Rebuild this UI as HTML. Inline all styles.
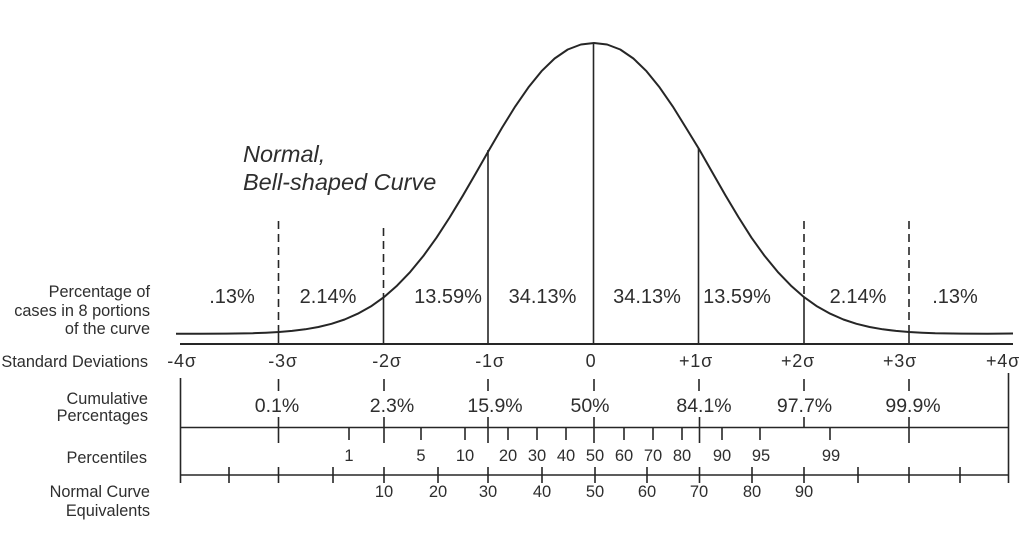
<!DOCTYPE html>
<html><head><meta charset="utf-8"><style>
html,body{margin:0;padding:0;background:#fff;}
svg{display:block;}
text{font-family:"Liberation Sans",Arial,sans-serif;fill:#2e2e2e;}
</style></head><body>
<svg width="1024" height="538" viewBox="0 0 1024 538" xmlns="http://www.w3.org/2000/svg">
<rect width="1024" height="538" fill="#fff"/>
<g stroke="#262626" fill="none" stroke-linejoin="round" stroke-linecap="butt">
<!-- curve -->
<polyline stroke-width="2" points="176,333.8 200.25,333.8 226.5,333.6 252.75,333.2 265.9,332.7 279,332 292.1,330.9 305.25,329.3 318.4,327 331.5,323.8 344.6,319.5 357.75,313.7 370.9,306.4 384,297.1 397.1,285.6 410.25,271.9 423.4,255.9 436.5,237.7 449.6,217.5 462.75,195.8 475.9,173.1 489,150.1 502.1,127.6 515.25,106.4 528.4,87.4 541.5,71.2 554.6,58.5 567.75,49.5 580.9,44.5 594,43 607.1,44.5 620.25,49.5 633.4,58.5 646.5,71.2 659.6,87.4 672.75,106.4 685.9,127.6 699,149 712.1,172 725.25,195 738.4,217 751.5,237.7 764.6,255.9 777.75,271.9 790.9,285.6 804,297.1 817.1,306.4 830.25,313.7 843.4,319.5 856.5,323.8 869.6,327 882.75,329.3 895.9,330.9 909,332 922.1,332.7 935.25,333.2 961.5,333.6 987.75,333.7 1013,333.5"/>
<!-- baseline -->
<line x1="180" y1="344" x2="1013" y2="344" stroke-width="2"/>
<!-- solid verticals -->
<g stroke-width="1.6">
<line x1="593.5" y1="43" x2="593.5" y2="344"/>
<line x1="488" y1="150" x2="488" y2="344"/>
<line x1="698.5" y1="148" x2="698.5" y2="344"/>
<line x1="383.5" y1="297" x2="383.5" y2="344"/>
<line x1="804" y1="297" x2="804" y2="344"/>
<line x1="278.5" y1="332" x2="278.5" y2="344"/>
<line x1="909" y1="332" x2="909" y2="344"/>
</g>
<!-- dashed verticals -->
<g stroke-width="1.6" stroke-dasharray="8 5">
<line x1="278.5" y1="221" x2="278.5" y2="332"/>
<line x1="383.5" y1="228" x2="383.5" y2="297"/>
<line x1="804" y1="221" x2="804" y2="297"/>
<line x1="909" y1="221" x2="909" y2="332"/>
</g>
<!-- cumulative section -->
<g stroke-width="1.6">
<line x1="180.5" y1="378" x2="180.5" y2="483"/>
<line x1="1008.5" y1="373" x2="1008.5" y2="483"/>
<line x1="180" y1="427.5" x2="1008" y2="427.5"/>
<line x1="180" y1="475" x2="1008" y2="475"/>
<!-- cum small dashes -->
<line x1="278.5" y1="379" x2="278.5" y2="391"/>
<line x1="384" y1="379" x2="384" y2="391"/>
<line x1="488" y1="379" x2="488" y2="391"/>
<line x1="594" y1="379" x2="594" y2="391"/>
<line x1="699" y1="379" x2="699" y2="391"/>
<line x1="804" y1="379" x2="804" y2="391"/>
<line x1="909" y1="379" x2="909" y2="391"/>
<!-- percentile short ticks -->
<line x1="349" y1="427" x2="349" y2="440"/>
<line x1="421" y1="427" x2="421" y2="440"/>
<line x1="465" y1="427" x2="465" y2="440"/>
<line x1="508" y1="427" x2="508" y2="440"/>
<line x1="537" y1="427" x2="537" y2="440"/>
<line x1="566" y1="427" x2="566" y2="440"/>
<line x1="624" y1="427" x2="624" y2="440"/>
<line x1="653" y1="427" x2="653" y2="440"/>
<line x1="682" y1="427" x2="682" y2="440"/>
<line x1="722" y1="427" x2="722" y2="440"/>
<line x1="760" y1="427" x2="760" y2="440"/>
<line x1="830" y1="427" x2="830" y2="440"/>
<!-- long ticks -->
<line x1="278.5" y1="417" x2="278.5" y2="443"/>
<line x1="384" y1="417" x2="384" y2="443"/>
<line x1="488" y1="417" x2="488" y2="443"/>
<line x1="594" y1="417" x2="594" y2="443"/>
<line x1="699.5" y1="417" x2="699.5" y2="443"/>
<line x1="804" y1="417" x2="804" y2="427"/>
<line x1="909" y1="417" x2="909" y2="443"/>
<!-- NCE ticks -->
<line x1="229" y1="467" x2="229" y2="483"/>
<line x1="278.5" y1="467" x2="278.5" y2="483"/>
<line x1="333" y1="467" x2="333" y2="483"/>
<line x1="384" y1="467" x2="384" y2="483"/>
<line x1="438" y1="467" x2="438" y2="483"/>
<line x1="488" y1="467" x2="488" y2="483"/>
<line x1="542" y1="467" x2="542" y2="483"/>
<line x1="595" y1="467" x2="595" y2="483"/>
<line x1="647" y1="467" x2="647" y2="483"/>
<line x1="699.5" y1="467" x2="699.5" y2="483"/>
<line x1="752" y1="467" x2="752" y2="483"/>
<line x1="804" y1="467" x2="804" y2="483"/>
<line x1="858" y1="467" x2="858" y2="483"/>
<line x1="909" y1="467" x2="909" y2="483"/>
<line x1="960" y1="467" x2="960" y2="483"/>
</g>
</g>

<!-- title -->
<text x="243" y="162" font-size="23.5" font-style="italic">Normal,</text>
<text x="243" y="190" font-size="23.5" font-style="italic">Bell-shaped Curve</text>

<!-- left labels -->
<g font-size="16.3" text-anchor="end">
<text x="150" y="297">Percentage of</text>
<text x="150" y="316">cases in 8 portions</text>
<text x="150" y="334">of the curve</text>
<text x="148" y="367">Standard Deviations</text>
<text x="148" y="404">Cumulative</text>
<text x="148" y="421">Percentages</text>
<text x="147" y="463">Percentiles</text>
<text x="150" y="497">Normal Curve</text>
<text x="150" y="516">Equivalents</text>
</g>

<!-- percentages of cases -->
<g font-size="20" text-anchor="middle">
<text x="232" y="303">.13%</text>
<text x="328" y="303">2.14%</text>
<text x="448" y="303">13.59%</text>
<text x="542.5" y="303">34.13%</text>
<text x="647" y="303">34.13%</text>
<text x="737" y="303">13.59%</text>
<text x="858" y="303">2.14%</text>
<text x="955" y="303">.13%</text>
</g>

<!-- sigma labels -->
<g font-size="18" text-anchor="middle" letter-spacing="0.8">
<text x="182" y="367">-4σ</text>
<text x="283" y="367">-3σ</text>
<text x="387" y="367">-2σ</text>
<text x="490" y="367">-1σ</text>
<text x="591" y="367">0</text>
<text x="696" y="367">+1σ</text>
<text x="798" y="367">+2σ</text>
<text x="900" y="367">+3σ</text>
<text x="1003" y="367">+4σ</text>
</g>

<!-- cumulative percentages -->
<g font-size="19.5" text-anchor="middle">
<text x="277" y="412">0.1%</text>
<text x="392" y="412">2.3%</text>
<text x="495" y="412">15.9%</text>
<text x="590" y="412">50%</text>
<text x="704" y="412">84.1%</text>
<text x="804.5" y="412">97.7%</text>
<text x="913" y="412">99.9%</text>
</g>

<!-- percentiles -->
<g font-size="16.5" text-anchor="middle">
<text x="349" y="461">1</text>
<text x="421" y="461">5</text>
<text x="465" y="461">10</text>
<text x="508" y="461">20</text>
<text x="537" y="461">30</text>
<text x="566" y="461">40</text>
<text x="595" y="461">50</text>
<text x="624" y="461">60</text>
<text x="653" y="461">70</text>
<text x="682" y="461">80</text>
<text x="722" y="461">90</text>
<text x="761" y="461">95</text>
<text x="831" y="461">99</text>
</g>

<!-- NCE -->
<g font-size="16.5" text-anchor="middle">
<text x="384" y="497">10</text>
<text x="438" y="497">20</text>
<text x="488" y="497">30</text>
<text x="542" y="497">40</text>
<text x="595" y="497">50</text>
<text x="647" y="497">60</text>
<text x="699" y="497">70</text>
<text x="752" y="497">80</text>
<text x="804" y="497">90</text>
</g>
</svg>
</body></html>
